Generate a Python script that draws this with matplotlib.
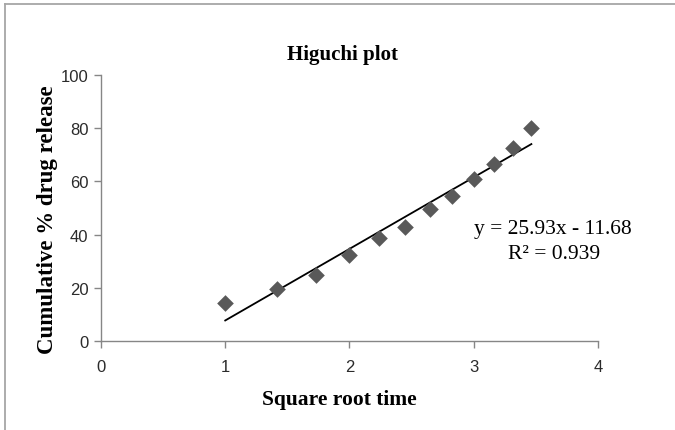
import numpy as np
import matplotlib
matplotlib.use("Agg")
import matplotlib.pyplot as plt
from matplotlib.lines import Line2D

# release data: square root of time vs cumulative % released
sqrt_time = [1.0, 1.414, 1.732, 2.0, 2.236, 2.449, 2.646, 2.828, 3.0, 3.162, 3.317, 3.464]
release = [14.2, 19.7, 24.7, 32.4, 38.6, 43.0, 49.8, 54.6, 60.9, 66.6, 72.4, 79.9]

# printed trendline equation
eq_text = 'y = 25.93x - 11.68'
r2_text = 'R² = 0.939'

x_ticks = [0, 1, 2, 3, 4]
y_ticks = [0, 20, 40, 60, 80, 100]

serif = ['Liberation Serif', 'DejaVu Serif']
tick_font = ['Liberation Sans Narrow', 'Liberation Sans', 'DejaVu Sans']
axis_grey = '#868686'

fig = plt.figure(figsize=(6.75, 4.31), dpi=100)
ax = fig.add_axes([0.1496, 0.2065, 0.7363, 0.6172])

ax.scatter(sqrt_time, release, marker='D', s=72, color='#595959', zorder=3, linewidths=0)

# least squares trendline over the data range
coef = np.polyfit(sqrt_time, release, 1)
xs = np.array([sqrt_time[0], sqrt_time[-1]])
ax.plot(xs, np.polyval(coef, xs), color='black', lw=1.3, zorder=2)

ax.set_xlim(0, 4)
ax.set_ylim(0, 100)
ax.set_xticks(x_ticks)
ax.set_yticks(y_ticks)
for lbl in ax.get_xticklabels() + ax.get_yticklabels():
    lbl.set_family(tick_font)
    lbl.set_fontsize(12)
    lbl.set_color('#2b2b2b')

for side in ['top', 'right']:
    ax.spines[side].set_visible(False)
for side in ['left', 'bottom']:
    ax.spines[side].set_color(axis_grey)
    ax.spines[side].set_linewidth(1.0)
ax.tick_params(axis='both', direction='out', length=5, color=axis_grey, width=1.0)
ax.tick_params(axis='x', pad=8)
ax.tick_params(axis='y', pad=4)

fig.text(342 / 675, 1 - 55 / 431, 'Higuchi plot', family=serif, fontsize=15,
         fontweight='bold', ha='center', va='center')
fig.text(339 / 675, 1 - 400 / 431, 'Square root time', family=serif, fontsize=15.5,
         fontweight='bold', ha='center', va='center')
ax.set_ylabel('Cumulative % drug release', family=serif, fontsize=16.5, fontweight='bold',
              va='center')
ax.yaxis.set_label_coords(-0.107, 0.46)

ax.text(3.0, 42.3, eq_text, family=serif, fontsize=15.5, ha='left', va='center')
ax.text(3.65, 32.9, r2_text, family=serif, fontsize=15.5, ha='center', va='center')

# chart frame: top and left edges only
frame_kw = dict(transform=fig.transFigure, color='#a6a6a6', lw=1.3)
fig.add_artist(Line2D([5 / 675, 1], [1 - 5 / 431, 1 - 5 / 431], **frame_kw))
fig.add_artist(Line2D([5 / 675, 5 / 675], [0, 1 - 5 / 431], **frame_kw))

plt.savefig('out.png', dpi=100)
